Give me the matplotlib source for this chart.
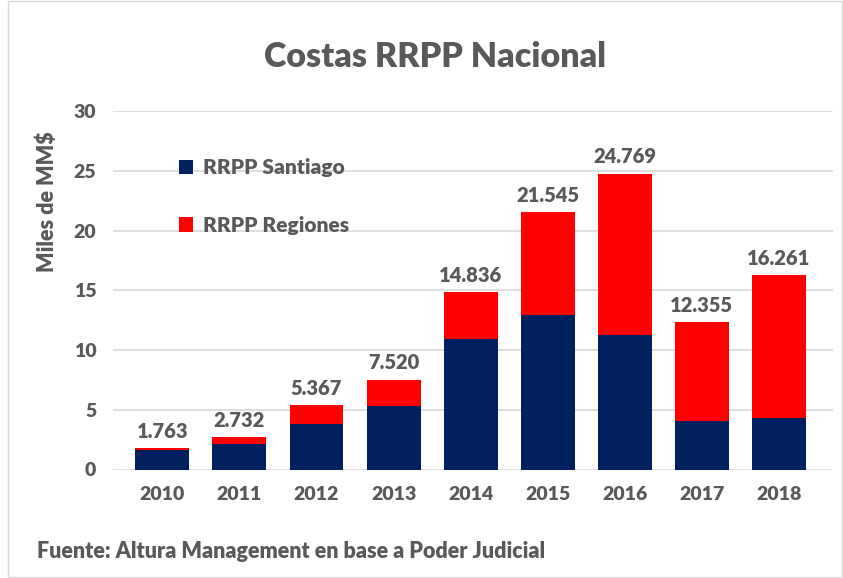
import matplotlib
matplotlib.use("Agg")
import matplotlib.pyplot as plt
from matplotlib.patches import Rectangle
import numpy as np

plt.rcParams['font.family'] = ['Lato', 'DejaVu Sans']

# data (miles de MM$)
years = ["2010", "2011", "2012", "2013", "2014", "2015", "2016", "2017", "2018"]
totals = [1.763, 2.732, 5.367, 7.520, 14.836, 21.545, 24.769, 12.355, 16.261]
santiago = [1.65, 2.12, 3.79, 5.29, 10.96, 12.96, 11.27, 4.07, 4.29]
regiones = [t - s for t, s in zip(totals, santiago)]
total_labels = ["1.763", "2.732", "5.367", "7.520", "14.836", "21.545", "24.769", "12.355", "16.261"]

gray = "#595959"
navy = "#002060"
red = "#FF0000"

fig = plt.figure(figsize=(8.43, 5.78), dpi=100)
ax = fig.add_axes([113 / 843, 1 - 469.5 / 578, (833 - 113) / 843, (469.5 - 111) / 578])

x = np.arange(len(years))
ax.bar(x, santiago, width=0.7, color=navy, label="RRPP Santiago", zorder=3)
ax.bar(x, regiones, width=0.7, bottom=santiago, color=red, label="RRPP Regiones", zorder=3)

# totals above bars
for xi, t, lab in zip(x, totals, total_labels):
    ax.text(xi, t + 0.6, lab, ha="center", va="bottom", fontsize=14.5,
            fontweight="heavy", color=gray)

ax.set_ylim(0, 30)
ax.set_xlim(-0.64, 8.7)
ax.set_yticks(range(0, 31, 5))
ax.set_xticks(x)
ax.set_xticklabels(years)
ax.grid(axis="y", color="#D9D9D9", linewidth=1.2, zorder=0)
for s in ax.spines.values():
    s.set_visible(False)
ax.tick_params(length=0, labelsize=14, labelcolor=gray, pad=12)
for lbl in ax.get_xticklabels() + ax.get_yticklabels():
    lbl.set_fontweight("heavy")

leg = ax.legend(frameon=False, loc="upper left", bbox_to_anchor=(0.065, 0.92),
                labelspacing=1.85, handlelength=0.7, handleheight=0.7,
                handletextpad=0.45, fontsize=15)
for t in leg.get_texts():
    t.set_color(gray)
    t.set_fontweight("heavy")

fig.text(435 / 843, 1 - 57 / 578, "Costas RRPP Nacional", ha="center", va="center",
         fontsize=24.5, fontweight="heavy", color=gray)
fig.text(47 / 843, 1 - 202 / 578, "Miles de MM$", rotation=90, ha="center",
         va="center", fontsize=15.5, fontweight="heavy", color=gray)
fig.text(37 / 843, 1 - 551 / 578, "Fuente: Altura Management en base a Poder Judicial",
         ha="left", va="center", fontsize=15.5, fontweight="heavy", color=gray)

fig.patches.append(Rectangle((8 / 843, 0.002), 1 - 9 / 843, 0.996, transform=fig.transFigure,
                             fill=False, edgecolor="#D9D9D9", linewidth=1))

fig.savefig("out.png", dpi=100)
